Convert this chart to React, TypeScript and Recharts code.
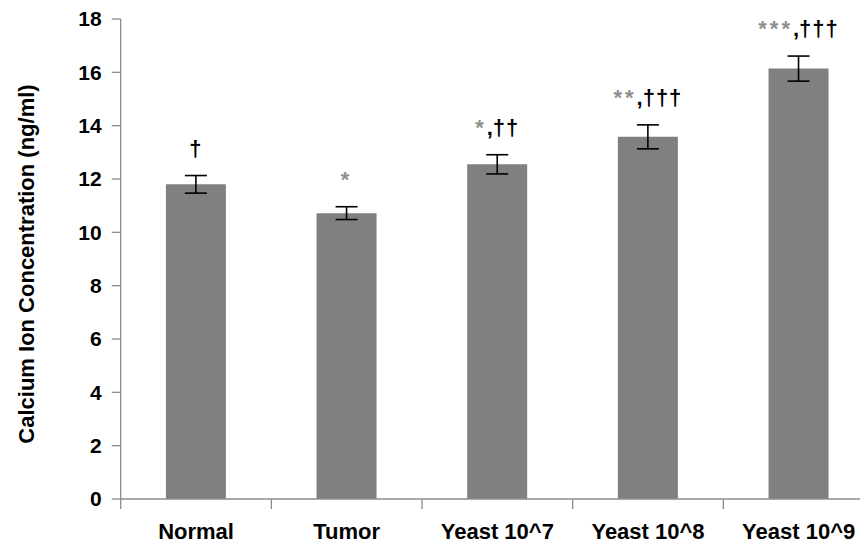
import React from 'react';
import { BarChart, Bar, XAxis, YAxis, ErrorBar, LabelList } from 'recharts';

const categories = ['Normal', 'Tumor', 'Yeast 10^7', 'Yeast 10^8', 'Yeast 10^9'];
const concentration = [11.8, 10.72, 12.55, 13.58, 16.14];
const sem = [0.33, 0.24, 0.36, 0.45, 0.47];
const starMarks = ['', '*', '*', '**', '***'];
const daggerMarks = ['†', '', '††', '†††', '†††'];
const yTicks = [0, 2, 4, 6, 8, 10, 12, 14, 16, 18];

const data = categories.map((name, i) => ({
  name,
  value: concentration[i],
  err: sem[i],
  idx: i,
}));

const FONT = '"Liberation Sans", Arial, sans-serif';

const XTick = (props: any) => {
  const { x, y, payload } = props;
  const off = payload && typeof payload.offset === 'number' ? payload.offset : 0;
  return (
    <g>
      <line x1={x - off} x2={x - off} y1={y - 10} y2={y} stroke="#8c8c8c" strokeWidth={1.3} />
      <text x={x} y={y} dy={30} textAnchor="middle" fontFamily={FONT} fontWeight="bold" fontSize={22} fill="#000">
        {payload.value}
      </text>
    </g>
  );
};

const SigLabel = (props: any) => {
  const { x, y, width, height, index } = props;
  const v = concentration[index];
  const e = sem[index];
  const pxPerUnit = height / v;
  const errTop = y - e * pxPerUnit;
  const stars = starMarks[index];
  const daggers = daggerMarks[index];
  const cx = x + width / 2;
  return (
    <text x={cx} y={errTop - 20} textAnchor="middle" fontFamily={FONT} fontWeight="bold" fontSize={22}>
      {stars ? <tspan fill="#8f8f8f" letterSpacing={3}>{stars}</tspan> : null}
      {stars && daggers ? <tspan fill="#000">,</tspan> : null}
      {daggers ? <tspan fill="#000" letterSpacing={1}>{daggers}</tspan> : null}
    </text>
  );
};

const YTitle = (props: any) => {
  const { viewBox } = props;
  const cx = viewBox.x + 18;
  const cy = viewBox.y + viewBox.height / 2 + 5;
  return (
    <text
      x={cx}
      y={cy}
      transform={`rotate(-90, ${cx}, ${cy})`}
      textAnchor="middle"
      dominantBaseline="central"
      fontFamily={FONT}
      fontWeight="bold"
      fontSize={22}
      fill="#000"
    >
      Calcium Ion Concentration (ng/ml)
    </text>
  );
};

export default function App() {
  return (
    <div style={{ width: 860, height: 538, background: '#fff' }}>
      <BarChart
        width={860}
        height={538}
        data={data}
        margin={{ top: 11, right: -6, bottom: 7, left: 0 }}
        barCategoryGap="30%"
      >
        <XAxis
          dataKey="name"
          tick={<XTick />}
          tickLine={false}
          tickSize={10}
          tickMargin={0}
          height={40}
          axisLine={{ stroke: '#8c8c8c', strokeWidth: 1.3 }}
          interval={0}
        />
        <YAxis
          domain={[0, 18]}
          ticks={yTicks}
          width={112.7}
          tickSize={9}
          tickMargin={10}
          interval={0}
          axisLine={{ stroke: '#8c8c8c', strokeWidth: 1.3 }}
          tickLine={{ stroke: '#8c8c8c', strokeWidth: 1.3 }}
          tick={{ fill: '#000', fontSize: 21, fontWeight: 'bold', fontFamily: FONT }}
          label={<YTitle />}
        />
        <Bar dataKey="value" fill="#808080" isAnimationActive={false}>
          <ErrorBar dataKey="err" width={11} stroke="#000" strokeWidth={1.6} direction="y" />
          <LabelList dataKey="value" content={<SigLabel />} />
        </Bar>
      </BarChart>
    </div>
  );
}
